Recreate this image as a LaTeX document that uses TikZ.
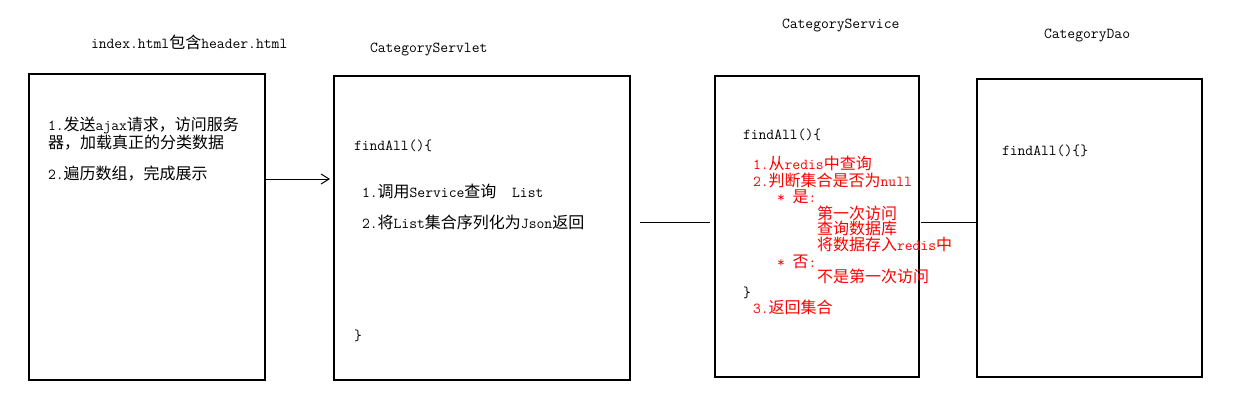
\documentclass[tikz,border=0pt]{standalone}
\usepackage{fontspec}
\setmainfont{Noto Sans CJK SC}
\usetikzlibrary{arrows.meta,fit}
\newcommand\mm[1]{{\ttfamily\fontsize{11.4pt}{14pt}\selectfont #1}}
\begin{document}
\begin{tikzpicture}[x=0.75pt,y=-0.75pt,
  every node/.style={font=\fontsize{12pt}{15pt}\selectfont},
  txt/.style={anchor=base west, inner sep=0pt, outer sep=0pt},
  red txt/.style={txt, text=red},
  box/.style={draw=black, line width=0.8pt, inner sep=0pt, outer sep=0pt},
  conn/.style={draw=black, line width=0.75pt},
  arr/.style={conn, -{Straight Barb[length=6pt,width=7.5pt]}}]
\fill[white] (0,0) rectangle (1236,411);
\useasboundingbox (0,0) rectangle (1236,411);
% boxes
\node[box, fit={(29,74)(265,380)}] (b1) {};
\node[box, fit={(334,76)(630,380)}] (b2) {};
\node[box, fit={(715,76)(919,377)}] (b3) {};
\node[box, fit={(977,79)(1202,377)}] (b4) {};
% titles
\node[txt] (t1) at (91,48) {\mm{index.html}包含\mm{header.html}};
\node[txt] (t2) at (370,52) {\mm{CategoryServlet}};
\node[txt] (t3) at (782,28.5) {\mm{CategoryService}};
\node[txt] (t4) at (1044,38.5) {\mm{CategoryDao}};
% box 1
\node[txt] (a1) at (48,130.5) {\mm{1.}发送\mm{ajax}请求，访问服务};
\node[txt] (a2) at (48,148) {器，加载真正的分类数据};
\node[txt] (a3) at (48,179) {\mm{2.}遍历数组，完成展示};
% box 2
\node[txt] (s1) at (354,150) {\mm{findAll()\{}};
\node[txt] (s2) at (362,197) {\mm{1.}调用\mm{Service}查询\mm{\ \ List}};
\node[txt] (s3) at (362,228) {\mm{2.}将\mm{List}集合序列化为\mm{Json}返回};
\node[txt] (s4) at (354,340) {\mm{\}}};
% box 3
\node[txt] (c1) at (743,139) {\mm{findAll()\{}};
\node[red txt] (c2) at (753,169) {\mm{1.}从\mm{redis}中查询};
\node[red txt] (c3) at (753,186) {\mm{2.}判断集合是否为\mm{null}};
\node[red txt] (c4) at (777,202) {\mm{*\ }是\mm{:}};
\node[red txt] (c5) at (817,219) {第一次访问};
\node[red txt] (c6) at (817,234) {查询数据库};
\node[red txt] (c7) at (817,250) {将数据存入\mm{redis}中};
\node[red txt] (c8) at (777,267) {\mm{*\ }否\mm{:}};
\node[red txt] (c9) at (817,282) {不是第一次访问};
\node[txt] (c10) at (743,297) {\mm{\}}};
\node[red txt] (c11) at (753,313) {\mm{3.}返回集合};
% box 4
\node[txt] (d1) at (1002,155) {\mm{findAll()\{\}}};
% connectors
\draw[arr, shorten >=3pt] (b1.east |- 0,179) -- (b2.west |- 0,179);
\draw[conn, shorten <=7.5pt, shorten >=4pt] (b2.east |- 0,222) -- (b3.west |- 0,222);
\draw[conn, shorten <=1.5pt] (b3.east |- 0,222) -- (b4.west |- 0,222);
\end{tikzpicture}
\end{document}
